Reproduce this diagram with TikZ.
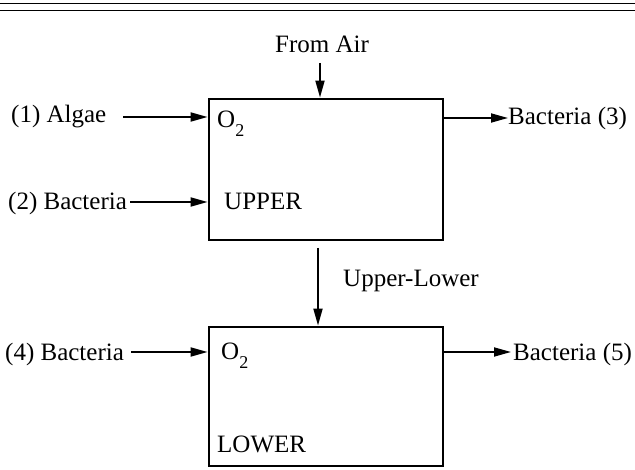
\documentclass[tikz,border=0pt]{standalone}
\usepackage{fontspec}
\setmainfont{Liberation Serif}
\usetikzlibrary{arrows.meta,positioning,calc}
\newcommand{\Otwo}{O\raisebox{-9pt}{\fontsize{18}{18}\selectfont 2}}
\tikzset{
  tank/.style={draw=black, line width=2.8pt, minimum width=234pt,
    inner sep=0pt},
  lbl/.style={font=\fontsize{25}{29}\selectfont, inner sep=0pt},
  flow/.style={-{Triangle[length=17pt,width=9pt]}, line width=1.8pt},
  rule/.style={line width=1.8pt}
}
\begin{document}
\begin{tikzpicture}[x=1pt,y=-1pt]
  \useasboundingbox (0,0) rectangle (635,470);
  % double rule at the top
  \draw[rule] (0,3.5) -- (635,3.5);
  \draw[rule] (0,10.5) -- (635,10.5);

  \node[tank, minimum height=141pt] (upper) at (326,169.5) {};
  \node[tank, minimum height=139pt] (lower) at (326,396.5) {};

  \node[lbl, anchor=base west] (o2u) at (217,128) {\Otwo};
  \node[lbl, anchor=base west] (uname) at (224,210) {UPPER};
  \node[lbl, anchor=base west] (o2l) at (221,360) {\Otwo};
  \node[lbl, anchor=base west] (lname) at (217,453) {LOWER};

  \node[lbl, anchor=base] (air) at (322,53) {From Air};
  \node[lbl, anchor=base west] (algae) at (11,123) {(1) Algae};
  \node[lbl, anchor=base west] (bact2) at (8,210) {(2) Bacteria};
  \node[lbl, anchor=base west] (bact3) at (508,125) {Bacteria (3)};
  \node[lbl, anchor=base west] (bact4) at (5,361) {(4) Bacteria};
  \node[lbl, anchor=base west] (bact5) at (513,361) {Bacteria (5)};
  \node[lbl, anchor=base west] (ul) at (343,287) {Upper-Lower};

  \coordinate (airs) at (320,63);
  \coordinate (alg) at (123,117);
  \coordinate (b2) at (130,202);
  \coordinate (b3) at (508,118);
  \coordinate (uls) at (318,248);
  \coordinate (b4) at (131,352);
  \coordinate (b5) at (511,352);

  \draw[flow] (airs) -- (airs |- upper.north);
  \draw[flow] (alg) -- (alg -| upper.west);
  \draw[flow] (b2) -- (b2 -| upper.west);
  \draw[flow] (b3 -| upper.east) -- (b3);
  \draw[flow] (uls) -- (uls |- lower.north);
  \draw[flow] (b4) -- (b4 -| lower.west);
  \draw[flow] (b5 -| lower.east) -- (b5);
\end{tikzpicture}
\end{document}
